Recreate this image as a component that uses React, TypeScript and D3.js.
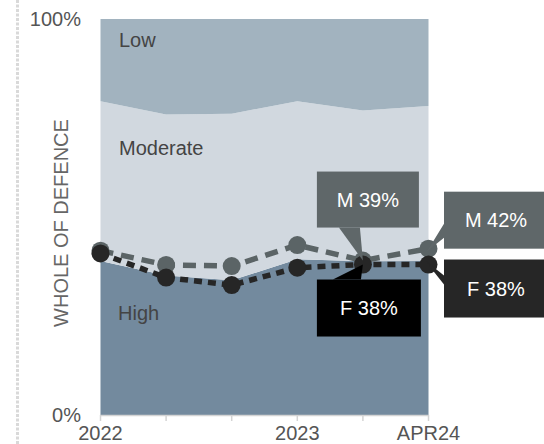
import React from "react";
import * as d3 from "d3";

// Survey periods along the x axis (blank entries are unlabeled ticks)
const periods = ["2022", "", "", "2023", "", "APR24"];

// Stacked share of respondents by level (percent)
const high = [38.9, 35.2, 34.0, 39.3, 38.8, 38.9];
const moderate = [40.3, 40.7, 42.1, 39.9, 38.1, 39.1];
const low = [20.8, 24.1, 23.9, 20.8, 23.1, 22.0];

// High share by gender (percent)
const male = [41.5, 37.9, 37.6, 42.9, 39, 42];
const female = [40.8, 34.7, 32.8, 37.2, 38, 38];

const yTicks = [0, 100];

const W = 544;
const H = 444;
const FONT = "'Liberation Sans', Arial, sans-serif";

export default function App() {
  const x = d3
    .scalePoint<number>()
    .domain(periods.map((_, i) => i))
    .range([100.5, 428.5]);
  const y = d3.scaleLinear().domain([0, 100]).range([415, 19]);

  const rows = periods.map((_, i) => ({
    i,
    High: high[i],
    Moderate: moderate[i],
    Low: low[i],
  }));
  const keys = ["High", "Moderate", "Low"];
  const stacked = d3.stack<any>().keys(keys)(rows);
  const fills: Record<string, string> = {
    High: "#738a9e",
    Moderate: "#d1d8df",
    Low: "#a2b3bf",
  };

  const area = d3
    .area<any>()
    .x((d) => x(d.data.i)!)
    .y0((d) => y(Math.min(100, d[0])))
    .y1((d) => y(Math.min(100, d[1])));

  const line = d3
    .line<number>()
    .x((_, i) => x(i)!)
    .y((v) => y(v));

  const mColor = "#5b6466";
  const fColor = "#262626";

  // Callout boxes: anchored at a data point, box offset from it
  const callouts = [
    { text: "M 39%", value: male[4], idx: 4, fill: "#5f6769", box: [-46, -89, 102, 56], tail: "up" },
    { text: "F 38%", value: female[4], idx: 4, fill: "#000000", box: [-46, 15, 104, 57], tail: "down" },
    { text: "M 42%", value: male[5], idx: 5, fill: "#5f6769", box: [15.5, -57, 110, 57], tail: "rightUp" },
    { text: "F 38%", value: female[5], idx: 5, fill: "#262626", box: [15.5, -5, 110, 58], tail: "rightDown" },
  ];

  return (
    <div style={{ position: "absolute", left: 0, top: 0 }}>
      <svg width={W} height={H} style={{ display: "block", fontFamily: FONT }}>
        <rect width={W} height={H} fill="#ffffff" />
        {/* dotted rule on the left */}
        <line x1={17.5} x2={17.5} y1={0} y2={H} stroke="#d9d9d9" strokeWidth={3} strokeDasharray="3 1.5" />

        {/* stacked areas */}
        {stacked.map((s) => (
          <path key={s.key} d={area(s as any)!} fill={fills[s.key]} />
        ))}

        {/* x axis */}
        <line x1={x(0)} x2={x(periods.length - 1)} y1={415.5} y2={415.5} stroke="#d4d4d4" strokeWidth={1.5} />
        {periods.map((p, i) => (
          <g key={i}>
            <line x1={x(i)} x2={x(i)} y1={415} y2={421} stroke="#d4d4d4" strokeWidth={1.5} />
            {p && (
              <text x={x(i)} y={440} textAnchor="middle" fontSize={20} fill="#555">
                {p}
              </text>
            )}
          </g>
        ))}

        {/* y tick labels */}
        {yTicks.map((t) => (
          <text key={t} x={81} y={y(t) + 6.5} textAnchor="end" fontSize={20} fill="#555">
            {t}%
          </text>
        ))}

        {/* y title */}
        <text
          transform={`translate(68,223) rotate(-90)`}
          textAnchor="middle"
          fontSize={20}
          fill="#666"
        >
          WHOLE OF DEFENCE
        </text>

        {/* area labels */}
        <text x={119} y={47} fontSize={20} fill="#444">Low</text>
        <text x={119} y={155} fontSize={20} fill="#444">Moderate</text>
        <text x={118} y={320} fontSize={20} fill="#444">High</text>

        {/* gender lines */}
        <path d={line(male)!} fill="none" stroke={mColor} strokeWidth={5.5} strokeDasharray="13 8" />
        {male.map((v, i) => (
          <circle key={"m" + i} cx={x(i)} cy={y(v)} r={9} fill={mColor} />
        ))}
        <path d={line(female)!} fill="none" stroke={fColor} strokeWidth={5.5} strokeDasharray="8 6" />
        {female.map((v, i) => (
          <circle key={"f" + i} cx={x(i)} cy={y(v)} r={9} fill={fColor} />
        ))}

        {/* callouts */}
        {callouts.map((c, k) => {
          const px = x(c.idx)!;
          const py = y(c.value);
          const [bx, by, bw, bh] = c.box;
          const left = px + bx;
          const top = py + by;
          let tail = "";
          if (c.tail === "up") {
            tail = `${left + 22},${top + bh} ${left + 43},${top + bh} ${px},${py}`;
          } else if (c.tail === "down") {
            tail = `${left + 16},${top} ${left + 44},${top} ${px},${py}`;
          } else if (c.tail === "rightUp") {
            tail = `${left},${top + 32} ${left},${top + 46} ${px - 2},${py + 3} ${px + 2},${py - 3}`;
          } else {
            tail = `${left},${top + 16} ${left},${top + 25} ${px + 2},${py + 3} ${px - 2},${py - 3}`;
          }
          return (
            <g key={k}>
              <polygon points={tail} fill={c.fill} />
              <rect x={left} y={top} width={bw} height={bh} fill={c.fill} />
              <text
                x={left + (c.tail.startsWith("right") ? 52 : bw / 2)}
                y={top + bh / 2 + 7}
                textAnchor="middle"
                fontSize={20}
                fill="#ffffff"
              >
                {c.text}
              </text>
            </g>
          );
        })}
      </svg>
    </div>
  );
}
